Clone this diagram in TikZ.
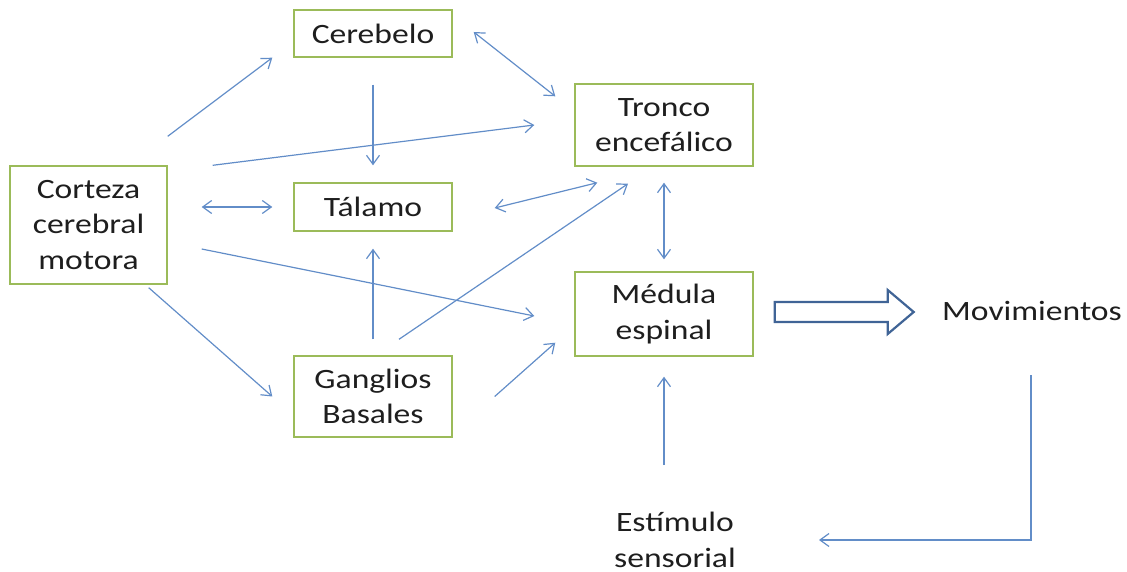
\documentclass[tikz,border=0pt]{standalone}
\usepackage{fontspec}
\setmainfont{Carlito}[FakeStretch=1.2]
\usetikzlibrary{arrows.meta}
\definecolor{boxgreen}{RGB}{155,187,89}
\definecolor{arrblue}{RGB}{98,141,200}
\definecolor{bigblue}{RGB}{64,100,150}
\definecolor{txt}{RGB}{30,30,30}
\begin{document}
\begin{tikzpicture}[x=1pt,y=-1pt,
  box/.style={draw=boxgreen,line width=1.4pt,fill=white,align=center,inner sep=0pt,text=txt,font=\fontsize{28}{35.5}\selectfont},
  lbl/.style={align=center,inner sep=0pt,text=txt,font=\fontsize{28}{35.5}\selectfont},
  conn/.style={draw=arrblue,line width=1.2pt,-{Straight Barb[length=9pt,width=13pt,line width=1.2pt]}},
  conntwo/.style={draw=arrblue,line width=1.2pt,{Straight Barb[length=9pt,width=13pt,line width=1.2pt]}-{Straight Barb[length=9pt,width=13pt,line width=1.2pt]}},
  bigarrow/.style={draw=bigblue,line width=2.2pt,fill=white,line join=miter}]
\useasboundingbox (0,0) rectangle (1127,572);
\node[box,minimum width=158pt,minimum height=47pt] (cereb) at (373,33.5) {Cerebelo};
\node[box,minimum width=178pt,minimum height=82pt] (tronco) at (664,125) {Tronco\\encefálico};
\node[box,minimum width=157pt,minimum height=118pt] (cort) at (88.5,225) {Corteza\\cerebral\\motora};
\node[box,minimum width=158pt,minimum height=48pt] (tal) at (373,207) {Tálamo};
\node[box,minimum width=178pt,minimum height=84pt] (med) at (664,314) {Médula\\espinal};
\node[box,minimum width=158pt,minimum height=81pt] (gang) at (373,396.5) {Ganglios\\Basales};
\node[lbl] (mov) at (1032,311) {Movimientos};
\node[lbl] (estim) at (675,540) {Estímulo\\sensorial};
% connectors
\draw[conn] ([shift={(0,-29)}]cort.north east) -- ([shift={(-21,0)}]cereb.south west);
\draw[conn] ([shift={(45,0)}]cort.north east) -- ([shift={(-40,0)}]tronco.west);
\draw[conntwo] ([shift={(34,-18)}]cort.east) -- ([shift={(-21,0)}]tal.west);
\draw[conn] ([shift={(34,24)}]cort.east) -- ([shift={(-40,2)}]med.west);
\draw[conn] ([shift={(-19,3)}]cort.south east) -- ([shift={(-21,0)}]gang.west);
\draw[conntwo] ([shift={(21,-1.5)}]cereb.east) -- ([shift={(-19,13)}]tronco.north west);
\draw[conn] ([shift={(0,27)}]cereb.south) -- ([shift={(0,-17)}]tal.north);
\draw[conntwo] ([shift={(42,1)}]tal.east) -- ([shift={(23,16)}]tronco.south west);
\draw[conn] ([shift={(0,-16)}]gang.north) -- ([shift={(0,17)}]tal.south);
\draw[conn] ([shift={(26,-16)}]gang.north) -- ([shift={(-36,17)}]tronco.south);
\draw[conn] ([shift={(42,0)}]gang.east) -- ([shift={(-19,-14)}]med.south west);
\draw[conntwo] ([shift={(0,16)}]tronco.south) -- ([shift={(0,-12)}]med.north);
\draw[conn] ([shift={(-11,-75)}]estim.center) -- ([shift={(0,20)}]med.south);
\draw[conn] ([shift={(-1,64)}]mov.center) |- ([shift={(144,0)}]estim.center);
% block arrow
\draw[bigarrow] ([shift={(21,-12)}]med.east) -- ++(113,0) -- ++(0,-12) -- ++(26,22) -- ++(-26,22) -- ++(0,-12) -- ++(-113,0) -- cycle;
\end{tikzpicture}
\end{document}
